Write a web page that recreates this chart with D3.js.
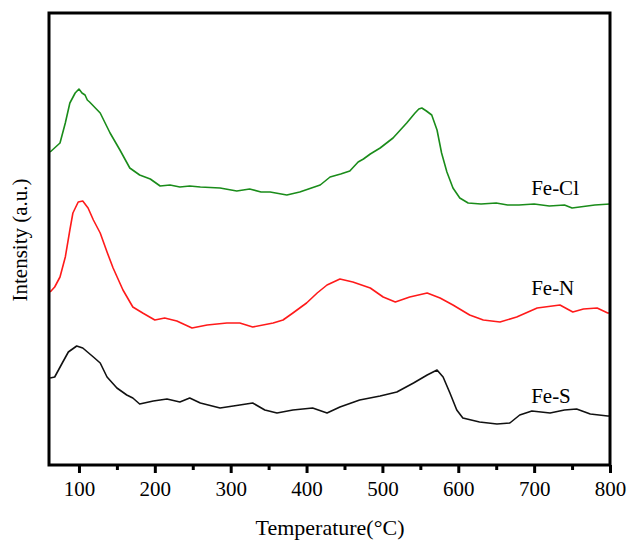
<!DOCTYPE html>
<html>
<head>
<meta charset="utf-8">
<script src="https://cdn.jsdelivr.net/npm/d3@7"></script>
<style>
  body { margin: 0; background: #fff; }
  svg text { font-family: "Times New Roman", "Liberation Serif", serif; fill: #000; }
</style>
</head>
<body>
<div id="chart"></div>
<script>
// temperature (°C) / intensity (a.u.) pairs
var feCl = [[62,313],[75,322],[82,342],[88,362],[95,372],[100,376],[104,372],[108,370],[111,365],[114,363],[128,352],[141,332],[154,315],
  [167,297],[180,290],[194,286],[207,279],[220,280],[233,278],[246,279],[260,278],[286,277],[308,274],[325,276],[340,273],[352,273],[374,270],
  [391,273],[418,280],[431,288],[445,291],[457,294],[468,303],[475,306],[484,311],[497,317],[514,327],[532,342],[543,352],[548,356],[552,357],
  [558,354],[565,350],[572,335],[578,312],[585,293],[593,277],[602,267],[613,262],[630,261],[650,262],[665,260],[680,260],[700,261],
  [720,259],[740,260],[750,257],[760,258],[780,260],[800,261]];
var feN = [[62,173],[68,178],[75,188],[82,208],[88,235],[92,252],[99,263],[105,264],[112,257],[119,245],[128,232],[137,213],[145,197],
  [158,175],[171,158],[184,152],[200,145],[213,147],[229,144],[249,137],[269,140],[295,142],[312,142],[329,138],[356,142],[369,145],
  [382,152],[400,162],[414,172],[427,180],[444,186],[461,183],[484,177],[501,168],[517,163],[536,168],[559,172],[576,167],[593,160],
  [615,150],[633,145],[655,143],[677,148],[704,157],[734,160],[751,153],[765,156],[783,157],[797,152],[800,152]];
var feS = [[62,87],[68,88],[78,102],[86,113],[97,119],[105,117],[119,108],[128,102],[137,88],[150,77],[163,70],[171,67],[180,61],
  [198,64],[216,66],[233,63],[246,67],[260,62],[286,57],[312,60],[329,62],[345,55],[361,52],[382,55],[408,57],[427,52],[444,58],
  [470,65],[497,69],[519,73],[541,82],[559,90],[572,95],[580,88],[589,72],[598,55],[606,47],[628,43],[651,41],[668,42],[681,50],
  [697,54],[721,52],[740,55],[756,56],[774,51],[797,49],[800,49]];

var seriesNames = ["Fe-Cl", "Fe-N", "Fe-S"];
var seriesColors = ["#1a8c1a", "#ff1a1a", "#111111"];
var labelTemps = [700, 700, 700];
var labelLevels = [270, 170, 62];
var xTicks = [100, 200, 300, 400, 500, 600, 700, 800];

var width = 628, height = 541;
var margin = {left: 49, right: 18, top: 13, bottom: 76};

var svg = d3.select("#chart").append("svg")
    .attr("width", width)
    .attr("height", height);

var x = d3.scaleLinear().domain([60.5, 800]).range([margin.left, width - margin.right]);
var y = d3.scaleLinear().domain([0, 452]).range([height - margin.bottom, margin.top]);

var line = d3.line()
    .x(function(d) { return x(d[0]); })
    .y(function(d) { return y(d[1]); });

var allSeries = [feCl, feN, feS];
allSeries.forEach(function(s, i) {
    svg.append("path")
        .datum(s)
        .attr("fill", "none")
        .attr("stroke", seriesColors[i])
        .attr("stroke-width", 1.6)
        .attr("stroke-linejoin", "round")
        .attr("d", line);
});

// labels next to curves
seriesNames.forEach(function(n, i) {
    svg.append("text")
        .attr("x", x(labelTemps[i]) - 3)
        .attr("y", y(labelLevels[i]))
        .attr("font-size", 21)
        .text(n);
});

// frame
svg.append("rect")
    .attr("x", margin.left)
    .attr("y", margin.top)
    .attr("width", width - margin.left - margin.right)
    .attr("height", height - margin.top - margin.bottom)
    .attr("fill", "none")
    .attr("stroke", "#000")
    .attr("stroke-width", 3);

// x axis, major + minor ticks
var xAxis = svg.append("g")
    .attr("transform", "translate(0," + (height - margin.bottom) + ")")
    .call(d3.axisBottom(x).tickValues(xTicks).tickSize(8).tickPadding(8).tickFormat(d3.format("d")));
xAxis.select(".domain").remove();
xAxis.selectAll(".tick line").attr("stroke-width", 3);
xAxis.selectAll(".tick text").attr("font-size", 21).attr("font-family", "Times New Roman, Liberation Serif, serif");

svg.append("g")
    .attr("transform", "translate(0," + (height - margin.bottom) + ")")
    .call(d3.axisBottom(x).tickValues([150, 250, 350, 450, 550, 650, 750]).tickSize(5).tickFormat(""))
    .call(function(g) { g.select(".domain").remove(); g.selectAll(".tick line").attr("stroke-width", 3); });

svg.append("text")
    .attr("x", 330)
    .attr("y", 535)
    .attr("text-anchor", "middle")
    .attr("font-size", 22)
    .text("Temperature(°C)");

svg.append("text")
    .attr("transform", "translate(27,240) rotate(-90)")
    .attr("text-anchor", "middle")
    .attr("font-size", 21)
    .text("Intensity (a.u.)");
</script>
</body>
</html>
